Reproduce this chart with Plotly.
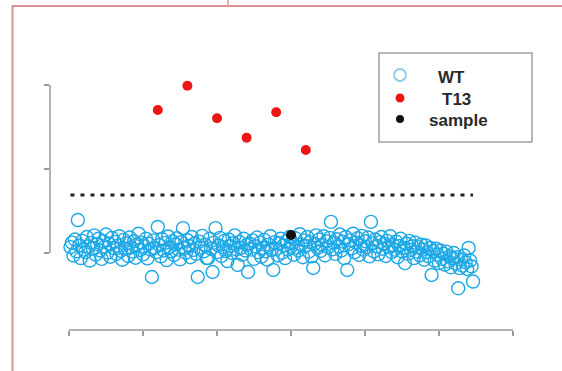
import plotly.graph_objects as go

# ---------------- data ----------------
wt_values = [
    0.35, 0.62, -0.15, 0.80, 0.10, 1.96, 0.45, -0.30, 0.72, 0.20,
    0.05, 0.95, 0.40, -0.45, 0.60, 0.28, 1.05, -0.10, 0.52, 0.85,
    0.15, -0.35, 0.70, 0.38, 1.10, 0.02, 0.55, -0.22, 0.90, 0.30,
    0.66, -0.05, 0.44, 1.00, 0.12, -0.40, 0.78, 0.25, 0.58, -0.18,
    0.92, 0.33, 0.08, 0.70, -0.28, 0.50, 1.15, 0.18, 0.62, -0.08,
    0.40, 0.85, -0.32, 0.55, 0.22, -1.43, 0.75, 0.30, 0.05, 1.55,
    0.48, -0.20, 0.82, 0.15, 0.60, -0.42, 0.98, 0.35, 0.10, 0.70,
    -0.12, 0.52, 0.88, 0.20, -0.38, 0.65, 1.48, 0.28, 0.02, 0.76,
    0.42, -0.25, 0.95, 0.18, 0.58, -0.05, -1.43, 0.68, 0.32, 1.02,
    0.10, 0.50, -0.30, -0.30, 0.85, 0.25, -1.13, 0.62, 1.48, 0.05,
    0.45, 0.90, -0.18, 0.35, 0.72, 0.12, -0.48, 0.80, 0.40, 0.00,
    0.58, 1.05, 0.22, -0.71, 0.66, 0.30, -0.10, 0.85, 0.15, 0.48,
    -1.13, 0.55, 0.20, 0.75, -0.35, 0.40, 0.92, 0.05, 0.62, -0.22,
    0.30, 0.78, 0.10, -0.40, 0.50, 1.00, 0.18, -1.01, 0.65, 0.25,
    -0.15, 0.58, 0.85, 0.02, 0.45, -0.30, 0.70, 0.22, 0.95, 0.38,
    0.60, -0.10, 0.88, 0.32, 0.15, 1.12, 0.50, -0.25, 0.75, 0.42,
    0.95, 0.08, 0.65, -0.20, -0.89, 0.55, 1.05, 0.30, 0.80, 0.12,
    0.48, 1.00, -0.15, 0.70, 0.35, 0.90, 1.85, 0.22, 0.60, -0.05,
    0.82, 0.40, 1.10, 0.15, 0.68, -0.30, 0.95, -1.01, 0.52, 0.75,
    0.28, 1.15, 0.05, 0.62, 0.88, -0.12, 0.45, 1.02, 0.20, 0.70,
    0.35, 0.92, -0.20, 1.85, 0.58, 0.10, 0.80, 0.40, -0.08, 0.65,
    0.95, 0.25, 0.55, -0.18, 0.72, 0.38, 1.00, 0.05, 0.48, 0.20,
    0.68, -0.25, 0.42, 0.85, 0.10, 0.30, -0.60, 0.55, -0.05, 0.72,
    0.18, 0.40, -0.30, 0.62, 0.08, 0.35, -0.15, 0.50, 0.20, -0.40,
    0.45, 0.05, -0.20, 0.30, -1.31, 0.12, -0.45, 0.25, -0.10, -0.60,
    0.15, -0.35, -0.05, -0.70, 0.08, -0.50, -0.20, -0.85, -0.30, 0.00,
    -0.62, -0.25, -2.10, -0.90, -0.40, -0.75, -0.15, -0.55, -0.95, 0.30,
    -0.45, -0.80, -1.70,
]
wt_index = list(range(1, len(wt_values) + 1))

t13_index = [60, 80, 100, 120, 140, 160]
t13_values = [8.51, 9.96, 8.02, 6.86, 8.38, 6.13]

sample_index = [150]
sample_values = [1.07]

threshold = 3.45
x_tickvals = [0, 50, 100, 150, 200, 250, 300]
y_tickvals = [0, 5, 10]
legend_labels = ["WT", "T13", "sample"]

# ---------------- layout geometry ----------------
W, H = 562, 371
ML, MR, MT, MB = 50, 17, 15, 41
PW, PH = W - ML - MR, H - MT - MB


def px(xp):
    return (xp - ML) / PW


def py(yp):
    return (H - MB - yp) / PH


AX = "#9a9a9a"
BLUE = "#1ea8e6"
PINK = "#d99393"

fig = go.Figure()

fig.add_trace(go.Scatter(
    x=[wt_index[0], wt_index[-1]], y=[threshold, threshold], mode="lines",
    line=dict(color="#222222", width=3, dash="4px,6px"), showlegend=False,
    hoverinfo="skip"))

fig.add_trace(go.Scatter(
    x=wt_index, y=wt_values, mode="markers", name="WT", showlegend=False,
    marker=dict(symbol="circle-open", size=13, color=BLUE,
                line=dict(width=1.4, color=BLUE))))

fig.add_trace(go.Scatter(
    x=t13_index, y=t13_values, mode="markers", name="T13", showlegend=False,
    marker=dict(symbol="circle", size=10, color="#ee1515")))

fig.add_trace(go.Scatter(
    x=sample_index, y=sample_values, mode="markers", name="sample",
    showlegend=False, marker=dict(symbol="circle", size=10, color="#111111")))

shapes = [
    # axis lines spanning tick range (R style)
    dict(type="line", xref="x", yref="paper", x0=x_tickvals[0], x1=x_tickvals[-1],
         y0=0, y1=0, line=dict(color=AX, width=1.5)),
    dict(type="line", xref="paper", yref="y", x0=0, x1=0,
         y0=y_tickvals[0], y1=y_tickvals[-1], line=dict(color=AX, width=1.5)),
    # table cell borders
    dict(type="line", xref="paper", yref="paper", x0=px(12), x1=px(562),
         y0=py(6), y1=py(6), line=dict(color=PINK, width=2)),
    dict(type="line", xref="paper", yref="paper", x0=px(12.5), x1=px(12.5),
         y0=py(5), y1=py(371), line=dict(color=PINK, width=2)),
    dict(type="line", xref="paper", yref="paper", x0=px(228), x1=px(228),
         y0=py(0), y1=py(6), line=dict(color=PINK, width=1.5)),
    # legend box
    dict(type="rect", xref="paper", yref="paper", x0=px(379), x1=px(532),
         y0=py(142), y1=py(53), line=dict(color="#a0a0a0", width=1.5),
         fillcolor="white", layer="below"),
]

# legend symbols
sym = [
    (75, 6, "white", "#8ccbe8", 1.8),
    (98, 4.5, "#ee1515", "#ee1515", 0),
    (119, 4, "#111111", "#111111", 0),
]
for yc, r, fill, lc, lw in sym:
    shapes.append(dict(type="circle", xref="paper", yref="paper",
                       x0=px(400 - r), x1=px(400 + r), y0=py(yc + r), y1=py(yc - r),
                       fillcolor=fill, line=dict(color=lc, width=lw)))

annotations = []
for label, xl, yc in zip(legend_labels, [436, 440, 427], [77, 99, 120]):
    annotations.append(dict(text="<b>%s</b>" % label, xref="paper", yref="paper",
                            x=px(xl), y=py(yc),
                            xanchor="left", yanchor="middle", showarrow=False,
                            font=dict(family="Liberation Sans, Arial", size=17,
                                      color="#2a2a2a")))

fig.update_layout(
    width=W, height=H, margin=dict(l=ML, r=MR, t=MT, b=MB),
    paper_bgcolor="white", plot_bgcolor="white",
    shapes=shapes, annotations=annotations, showlegend=False,
    xaxis=dict(range=[-19 / 1.48, -19 / 1.48 + PW / 1.48], tickvals=x_tickvals,
               showticklabels=False, ticks="outside", ticklen=5, tickwidth=1.5,
               tickcolor=AX, showgrid=False, zeroline=False, showline=False),
    yaxis=dict(range=[(253 - 330) / 16.8, (253 - 15) / 16.8], tickvals=y_tickvals,
               showticklabels=False, ticks="outside", ticklen=5, tickwidth=1.5,
               tickcolor=AX, showgrid=False, zeroline=False, showline=False),
)

fig.write_html("out.html", config={"displayModeBar": False},
               post_script="document.body.style.margin='0';document.body.style.overflow='hidden';")
